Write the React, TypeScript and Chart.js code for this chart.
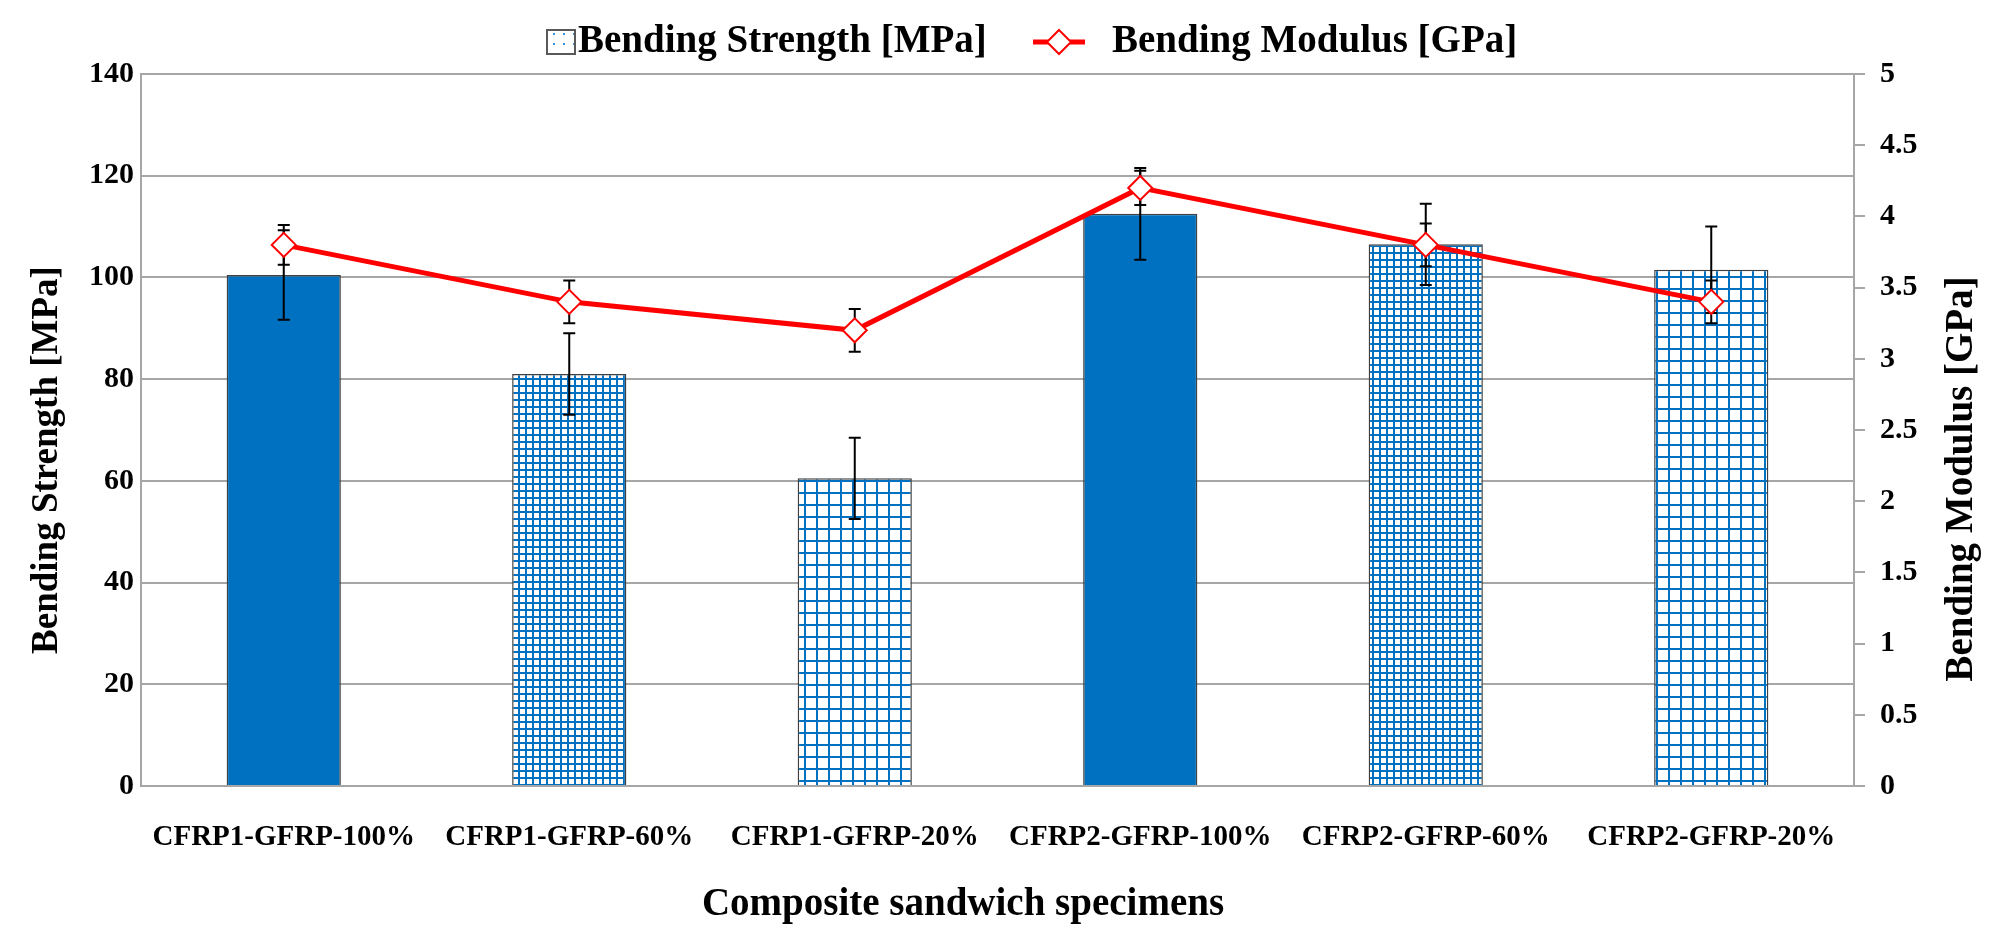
import React, { useEffect, useRef } from "react";
import { Chart, registerables } from "chart.js";

Chart.register(...registerables);

const categories = [
  "CFRP1-GFRP-100%",
  "CFRP1-GFRP-60%",
  "CFRP1-GFRP-20%",
  "CFRP2-GFRP-100%",
  "CFRP2-GFRP-60%",
  "CFRP2-GFRP-20%",
];
const strength = [100.5, 81, 60.5, 112.5, 106.5, 101.5];
const strengthErr = [8.8, 8, 8, 9, 8, 8.5];
const modulus = [3.8, 3.4, 3.2, 4.2, 3.8, 3.4];
const modulusErr = [0.14, 0.15, 0.15, 0.12, 0.15, 0.15];
// fill style per bar: solid, fine grid, coarse grid
const barStyles = ["solid", "fine", "coarse", "solid", "fine", "coarse"];

const leftTicks = { min: 0, max: 140, step: 20 };
const rightTicks = { min: 0, max: 5, step: 0.5 };

const legendLabels = ["Bending Strength [MPa]", "Bending Modulus [GPa]"];
const axisTitles = {
  x: "Composite sandwich specimens",
  left: "Bending Strength [MPa]",
  right: "Bending Modulus [GPa]",
};

const FONT = "'Liberation Serif', 'Times New Roman', serif";
const BLUE = "#0070C0";

function gridPattern(cell: number): CanvasPattern | string {
  const c = document.createElement("canvas");
  c.width = cell;
  c.height = cell;
  const g = c.getContext("2d");
  if (!g) return BLUE;
  g.fillStyle = "#ffffff";
  g.fillRect(0, 0, cell, cell);
  g.fillStyle = BLUE;
  g.fillRect(0, 0, cell, 2);
  g.fillRect(0, 0, 2, cell);
  const p = g.createPattern(c, "repeat");
  return p || BLUE;
}

function dotPattern(): CanvasPattern | string {
  const c = document.createElement("canvas");
  c.width = 10;
  c.height = 10;
  const g = c.getContext("2d");
  if (!g) return "#fff";
  g.fillStyle = "#ffffff";
  g.fillRect(0, 0, 10, 10);
  g.fillStyle = "#3d8fd6";
  g.fillRect(3, 3, 2, 2);
  const p = g.createPattern(c, "repeat");
  return p || "#fff";
}

const overlayPlugin = {
  id: "overlay",
  afterDatasetDraw(chart: any, args: any) {
    if (args.index !== 1) return;
    const ctx = chart.ctx;
    const x = chart.scales.x;
    const yL = chart.scales.y;
    const yR = chart.scales.y1;
    ctx.save();
    ctx.strokeStyle = "#000000";
    ctx.lineWidth = 2;
    const cap = 6;
    const drawErr = (px: number, lo: number, hi: number) => {
      ctx.beginPath();
      ctx.moveTo(px, lo);
      ctx.lineTo(px, hi);
      ctx.moveTo(px - cap, lo);
      ctx.lineTo(px + cap, lo);
      ctx.moveTo(px - cap, hi);
      ctx.lineTo(px + cap, hi);
      ctx.stroke();
    };
    strength.forEach((v, i) => {
      const px = x.getPixelForValue(i);
      drawErr(px, yL.getPixelForValue(v - strengthErr[i]), yL.getPixelForValue(v + strengthErr[i]));
    });
    modulus.forEach((v, i) => {
      const px = x.getPixelForValue(i);
      drawErr(px, yR.getPixelForValue(v - modulusErr[i]), yR.getPixelForValue(v + modulusErr[i]));
    });
    ctx.restore();
  },
  afterDraw(chart: any) {
    const ctx = chart.ctx;
    ctx.save();
    ctx.fillStyle = "#000000";
    ctx.textBaseline = "middle";
    // legend
    ctx.font = `bold 39px ${FONT}`;
    const ly = 42;
    ctx.fillStyle = dotPattern();
    ctx.fillRect(547, 30, 28, 24);
    ctx.strokeStyle = "#595959";
    ctx.lineWidth = 2;
    ctx.strokeRect(547, 30, 28, 24);
    ctx.fillStyle = "#000000";
    ctx.textAlign = "left";
    ctx.fillText(legendLabels[0], 578, ly);
    ctx.strokeStyle = "#FF0000";
    ctx.lineWidth = 5;
    ctx.beginPath();
    ctx.moveTo(1033, ly);
    ctx.lineTo(1085, ly);
    ctx.stroke();
    ctx.fillStyle = "#ffffff";
    ctx.lineWidth = 2;
    ctx.beginPath();
    ctx.moveTo(1059, ly - 12);
    ctx.lineTo(1071, ly);
    ctx.lineTo(1059, ly + 12);
    ctx.lineTo(1047, ly);
    ctx.closePath();
    ctx.fill();
    ctx.stroke();
    ctx.fillStyle = "#000000";
    ctx.fillText(legendLabels[1], 1112, ly);
    // x title
    ctx.textAlign = "center";
    ctx.font = `bold 39px ${FONT}`;
    ctx.fillText(axisTitles.x, 963, 905);
    // left title
    ctx.save();
    ctx.font = `bold 37px ${FONT}`;
    ctx.translate(47, 460);
    ctx.rotate(-Math.PI / 2);
    ctx.fillText(axisTitles.left, 0, 0);
    ctx.restore();
    // right title
    ctx.save();
    ctx.font = `bold 39px ${FONT}`;
    ctx.translate(1962, 479);
    ctx.rotate(-Math.PI / 2);
    ctx.fillText(axisTitles.right, 0, 0);
    ctx.restore();
    ctx.restore();
  },
};

export default function App() {
  const ref = useRef<HTMLCanvasElement | null>(null);
  useEffect(() => {
    if (!ref.current) return;
    const fills = barStyles.map((s) =>
      s === "solid" ? BLUE : s === "fine" ? gridPattern(7) : gridPattern(12)
    );
    const chart = new Chart(ref.current, {
      type: "bar",
      data: {
        labels: categories,
        datasets: [
          {
            type: "line",
            label: legendLabels[1],
            data: modulus,
            yAxisID: "y1",
            borderColor: "#FF0000",
            borderWidth: 5,
            pointStyle: "rectRot",
            pointRadius: 12,
            pointBackgroundColor: "#ffffff",
            pointBorderColor: "#FF0000",
            pointBorderWidth: 2,
            tension: 0,
            order: 0,
          } as any,
          {
            type: "bar",
            label: legendLabels[0],
            data: strength,
            yAxisID: "y",
            backgroundColor: fills as any,
            borderColor: "#404040",
            borderWidth: 1.5,
            barPercentage: 0.4,
            categoryPercentage: 1,
            order: 1,
          } as any,
        ],
      },
      options: {
        animation: false,
        responsive: false,
        devicePixelRatio: 1,
        layout: { padding: { top: 74, left: 0, right: 0, bottom: 0 } },
        plugins: { legend: { display: false }, tooltip: { enabled: false } },
        scales: {
          x: {
            grid: { display: false, drawTicks: false },
            border: { display: false },
            ticks: {
              color: "#000000",
              font: { family: FONT, size: 29, weight: "bold" },
              padding: 34,
              maxRotation: 0,
              autoSkip: false,
            },
            afterFit: (s: any) => {
              s.height = 156;
            },
          },
          y: {
            position: "left",
            min: leftTicks.min,
            max: leftTicks.max,
            ticks: {
              stepSize: leftTicks.step,
              color: "#000000",
              font: { family: FONT, size: 30, weight: "bold" },
              padding: 7,
            },
            grid: { color: "#A6A6A6", lineWidth: 2, drawTicks: false },
            border: { color: "#A6A6A6", width: 2 },
            afterFit: (s: any) => {
              s.width = 141;
            },
          },
          y1: {
            position: "right",
            min: rightTicks.min,
            max: rightTicks.max,
            ticks: {
              stepSize: rightTicks.step,
              color: "#000000",
              font: { family: FONT, size: 30, weight: "bold" },
              padding: 15,
              callback: (v: any) => String(Number(v)),
            },
            grid: {
              drawOnChartArea: false,
              color: "#A6A6A6",
              lineWidth: 2,
              drawTicks: true,
              tickLength: 11,
            },
            border: { color: "#A6A6A6", width: 2 },
            afterFit: (s: any) => {
              s.width = 145;
            },
          },
        },
      },
      plugins: [overlayPlugin],
    });
    return () => chart.destroy();
  }, []);
  return (
    <div style={{ position: "fixed", left: 0, top: 0, width: 1999, height: 942, background: "#fff" }}>
      <canvas ref={ref} width={1999} height={942} style={{ width: 1999, height: 942 }} />
    </div>
  );
}
